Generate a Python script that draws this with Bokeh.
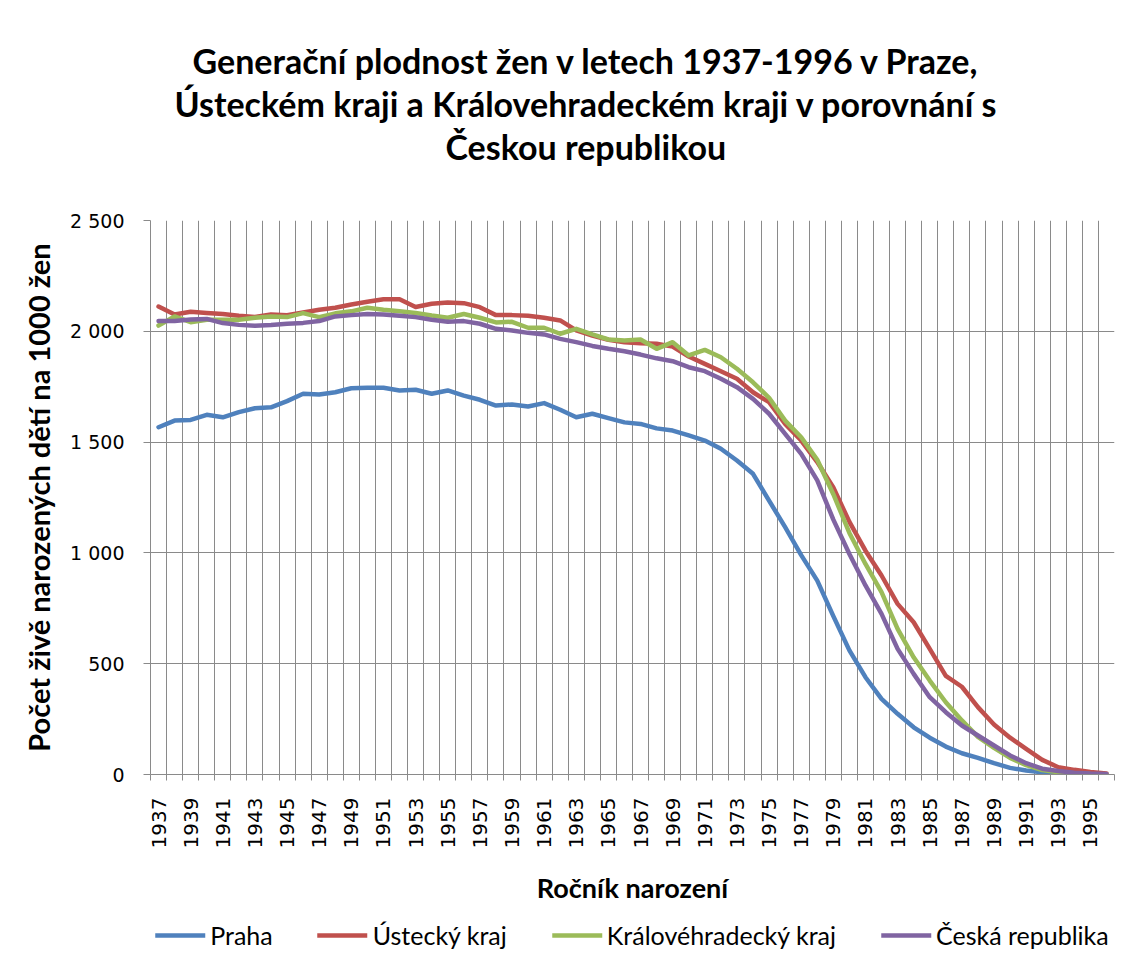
import math
from bokeh.plotting import figure
from bokeh.layouts import column
from bokeh.models import Range1d, FixedTicker, Legend, LegendItem, Title
from bokeh.embed import file_html
from bokeh.resources import INLINE

# ---------------- data ----------------
years = list(range(1937, 1997))

praha = [1567, 1597, 1600, 1623, 1612, 1635, 1653, 1657, 1685, 1718,
         1715, 1725, 1743, 1745, 1745, 1733, 1736, 1718, 1733, 1710,
         1691, 1665, 1670, 1661, 1676, 1646, 1612, 1628, 1608, 1589,
         1582, 1562, 1552, 1530, 1507, 1470, 1417, 1357, 1236, 1116,
         990, 875, 715, 560, 439, 341, 274, 213, 166, 126,
         96, 75, 51, 30, 18, 10, 6, 3, 2, 1]

ustecky = [2112, 2076, 2088, 2083, 2078, 2070, 2065, 2076, 2073, 2085,
           2097, 2106, 2121, 2133, 2145, 2145, 2110, 2124, 2130, 2127,
           2109, 2073, 2073, 2070, 2061, 2049, 2004, 1981, 1962, 1951,
           1946, 1944, 1931, 1886, 1853, 1820, 1786, 1725, 1680, 1582,
           1507, 1410, 1295, 1140, 1010, 898, 770, 687, 567, 445,
           396, 304, 226, 166, 116, 66, 33, 21, 11, 5]

kralovehradecky = [2026, 2067, 2041, 2052, 2052, 2052, 2061, 2067, 2064, 2082,
                   2064, 2081, 2090, 2106, 2097, 2090, 2083, 2071, 2061, 2078,
                   2061, 2040, 2043, 2016, 2016, 1989, 2011, 1986, 1963, 1959,
                   1963, 1921, 1951, 1891, 1916, 1883, 1831, 1770, 1700, 1597,
                   1522, 1420, 1265, 1090, 950, 823, 657, 529, 424, 326,
                   244, 170, 120, 75, 42, 20, 10, 5, 2, 1]

cr = [2046, 2046, 2053, 2056, 2037, 2029, 2025, 2028, 2034, 2038,
      2046, 2067, 2073, 2078, 2076, 2070, 2064, 2052, 2043, 2046,
      2034, 2011, 2004, 1993, 1986, 1966, 1951, 1934, 1921, 1910,
      1895, 1878, 1865, 1838, 1820, 1786, 1748, 1695, 1628, 1537,
      1447, 1327, 1150, 995, 853, 725, 567, 454, 349, 281,
      221, 176, 131, 86, 51, 26, 16, 8, 4, 2]

series_names = ["Praha", "Ústecký kraj", "Královéhradecký kraj", "Česká republika"]
series_values = [praha, ustecky, kralovehradecky, cr]
series_colors = ["#4F81BD", "#C0504D", "#9BBB59", "#8064A2"]

y_ticks = [0, 500, 1000, 1500, 2000, 2500]
y_tick_labels = ["0", "500", "1 000", "1 500", "2 000", "2 500"]
x_tick_years = years[::2]

title_lines = ["Generační plodnost žen v letech 1937-1996 v Praze,",
               "Ústeckém kraji  a Královehradeckém kraji   v porovnání s",
               "Českou republikou"]
x_title = "Ročník narození"
y_title = "Počet živě narozených dětí na 1000 žen"

# ---------------- layout ----------------
FL, FR, FT, FB = 150, 16, 220, 0
TOTAL_W = 1130
GRID = "#8a8a8a"
TITLE_FONT = "Lato"
NUM_FONT = "DejaVu Sans"

p = figure(frame_width=964, frame_height=554,
           output_backend="svg", toolbar_location=None,
           x_range=Range1d(years[0] - 0.5, years[-1] + 0.5),
           y_range=Range1d(y_ticks[0], y_ticks[-1]),
           min_border_left=FL, min_border_right=FR,
           min_border_top=FT, min_border_bottom=FB)
p.outline_line_color = None
p.background_fill_color = "white"
p.border_fill_color = "white"
p.title.text = ""
p.title.visible = False

# blank spacer between the title block and the plot area
p.add_layout(Title(text="\u00a0", standoff=0, text_font=TITLE_FONT,
                   text_font_size="44px"), "above")

# title lines: innermost (last line) added first; left offsets centre each line
title_offsets = [42, 24, 295]
for txt, off in reversed(list(zip(title_lines, title_offsets))):
    p.add_layout(Title(text=txt, align="left", offset=off, standoff=0,
                       text_font=TITLE_FONT, text_font_style="bold",
                       text_font_size="34px", text_color="black"), "above")

boundaries = [y - 0.5 for y in years] + [years[-1] + 0.5]

# x axis
p.xaxis.ticker = FixedTicker(ticks=x_tick_years, minor_ticks=boundaries)
p.xaxis.major_label_overrides = {yv: str(yv) for yv in x_tick_years}
p.xaxis.major_label_orientation = math.pi / 2
p.xaxis.major_tick_in = 0
p.xaxis.major_tick_out = 0
p.xaxis.minor_tick_in = 0
p.xaxis.minor_tick_out = 6
p.xaxis.minor_tick_line_color = GRID
p.xaxis.axis_line_color = GRID
p.xaxis.major_label_standoff = 17
p.xaxis.major_label_text_font = NUM_FONT
p.xaxis.major_label_text_font_size = "20px"
p.xaxis.major_label_text_color = "black"
p.xaxis.axis_label = x_title
p.xaxis.axis_label_text_font = TITLE_FONT
p.xaxis.axis_label_text_font_style = "bold"
p.xaxis.axis_label_text_font_size = "27px"
p.xaxis.axis_label_text_color = "black"
p.xaxis.axis_label_standoff = 20

# y axis
p.yaxis.ticker = FixedTicker(ticks=y_ticks, minor_ticks=[])
p.yaxis.major_label_overrides = dict(zip(y_ticks, y_tick_labels))
p.yaxis.major_tick_in = 0
p.yaxis.major_tick_out = 7
p.yaxis.major_tick_line_color = GRID
p.yaxis.minor_tick_line_color = None
p.yaxis.axis_line_color = GRID
p.yaxis.major_label_standoff = 19
p.yaxis.major_label_text_font = NUM_FONT
p.yaxis.major_label_text_font_size = "19px"
p.yaxis.major_label_text_color = "black"
p.yaxis.axis_label = y_title
p.yaxis.axis_label_text_font = TITLE_FONT
p.yaxis.axis_label_text_font_style = "bold"
p.yaxis.axis_label_text_font_size = "29px"
p.yaxis.axis_label_text_color = "black"
p.yaxis.axis_label_standoff = 11

# grids
p.xgrid.ticker = FixedTicker(ticks=boundaries)
p.xgrid.grid_line_color = GRID
p.xgrid.grid_line_width = 1
p.ygrid.ticker = FixedTicker(ticks=y_ticks)
p.ygrid.grid_line_color = GRID
p.ygrid.grid_line_width = 1

# lines
for name, vals, col in zip(series_names, series_values, series_colors):
    p.line(years, vals, line_color=col, line_width=4.5,
           line_join="round", line_cap="round")

# ---------------- legend strip (separate figure under the chart) ----------------
LEG_H = 56
LEG_LEFT = 100
pl = figure(width=TOTAL_W, height=LEG_H, output_backend="svg", toolbar_location=None,
            x_range=Range1d(0, 1), y_range=Range1d(0, 1),
            min_border_left=LEG_LEFT, min_border_right=0,
            min_border_top=0, min_border_bottom=0)
pl.axis.visible = False
pl.grid.visible = False
pl.outline_line_color = None
pl.background_fill_color = "white"
pl.border_fill_color = "white"

# the same series, lying outside this strip's visible range, give the legend its line keys
leg_items = []
for name, vals, col in zip(series_names, series_values, series_colors):
    r = pl.line(years, vals, line_color=col, line_width=4.5, line_cap="round")
    leg_items.append(LegendItem(label=name, renderers=[r]))

legend = Legend(items=leg_items, orientation="horizontal", location="center",
                glyph_width=50, glyph_height=24, label_standoff=5, spacing=45,
                padding=0, margin=0, border_line_color=None,
                background_fill_alpha=0,
                label_text_font=TITLE_FONT, label_text_font_size="25px",
                label_text_color="black", label_height=28)
pl.add_layout(legend)

layout = column(p, pl, spacing=0)
open("out.html", "w").write(file_html(layout, INLINE))
